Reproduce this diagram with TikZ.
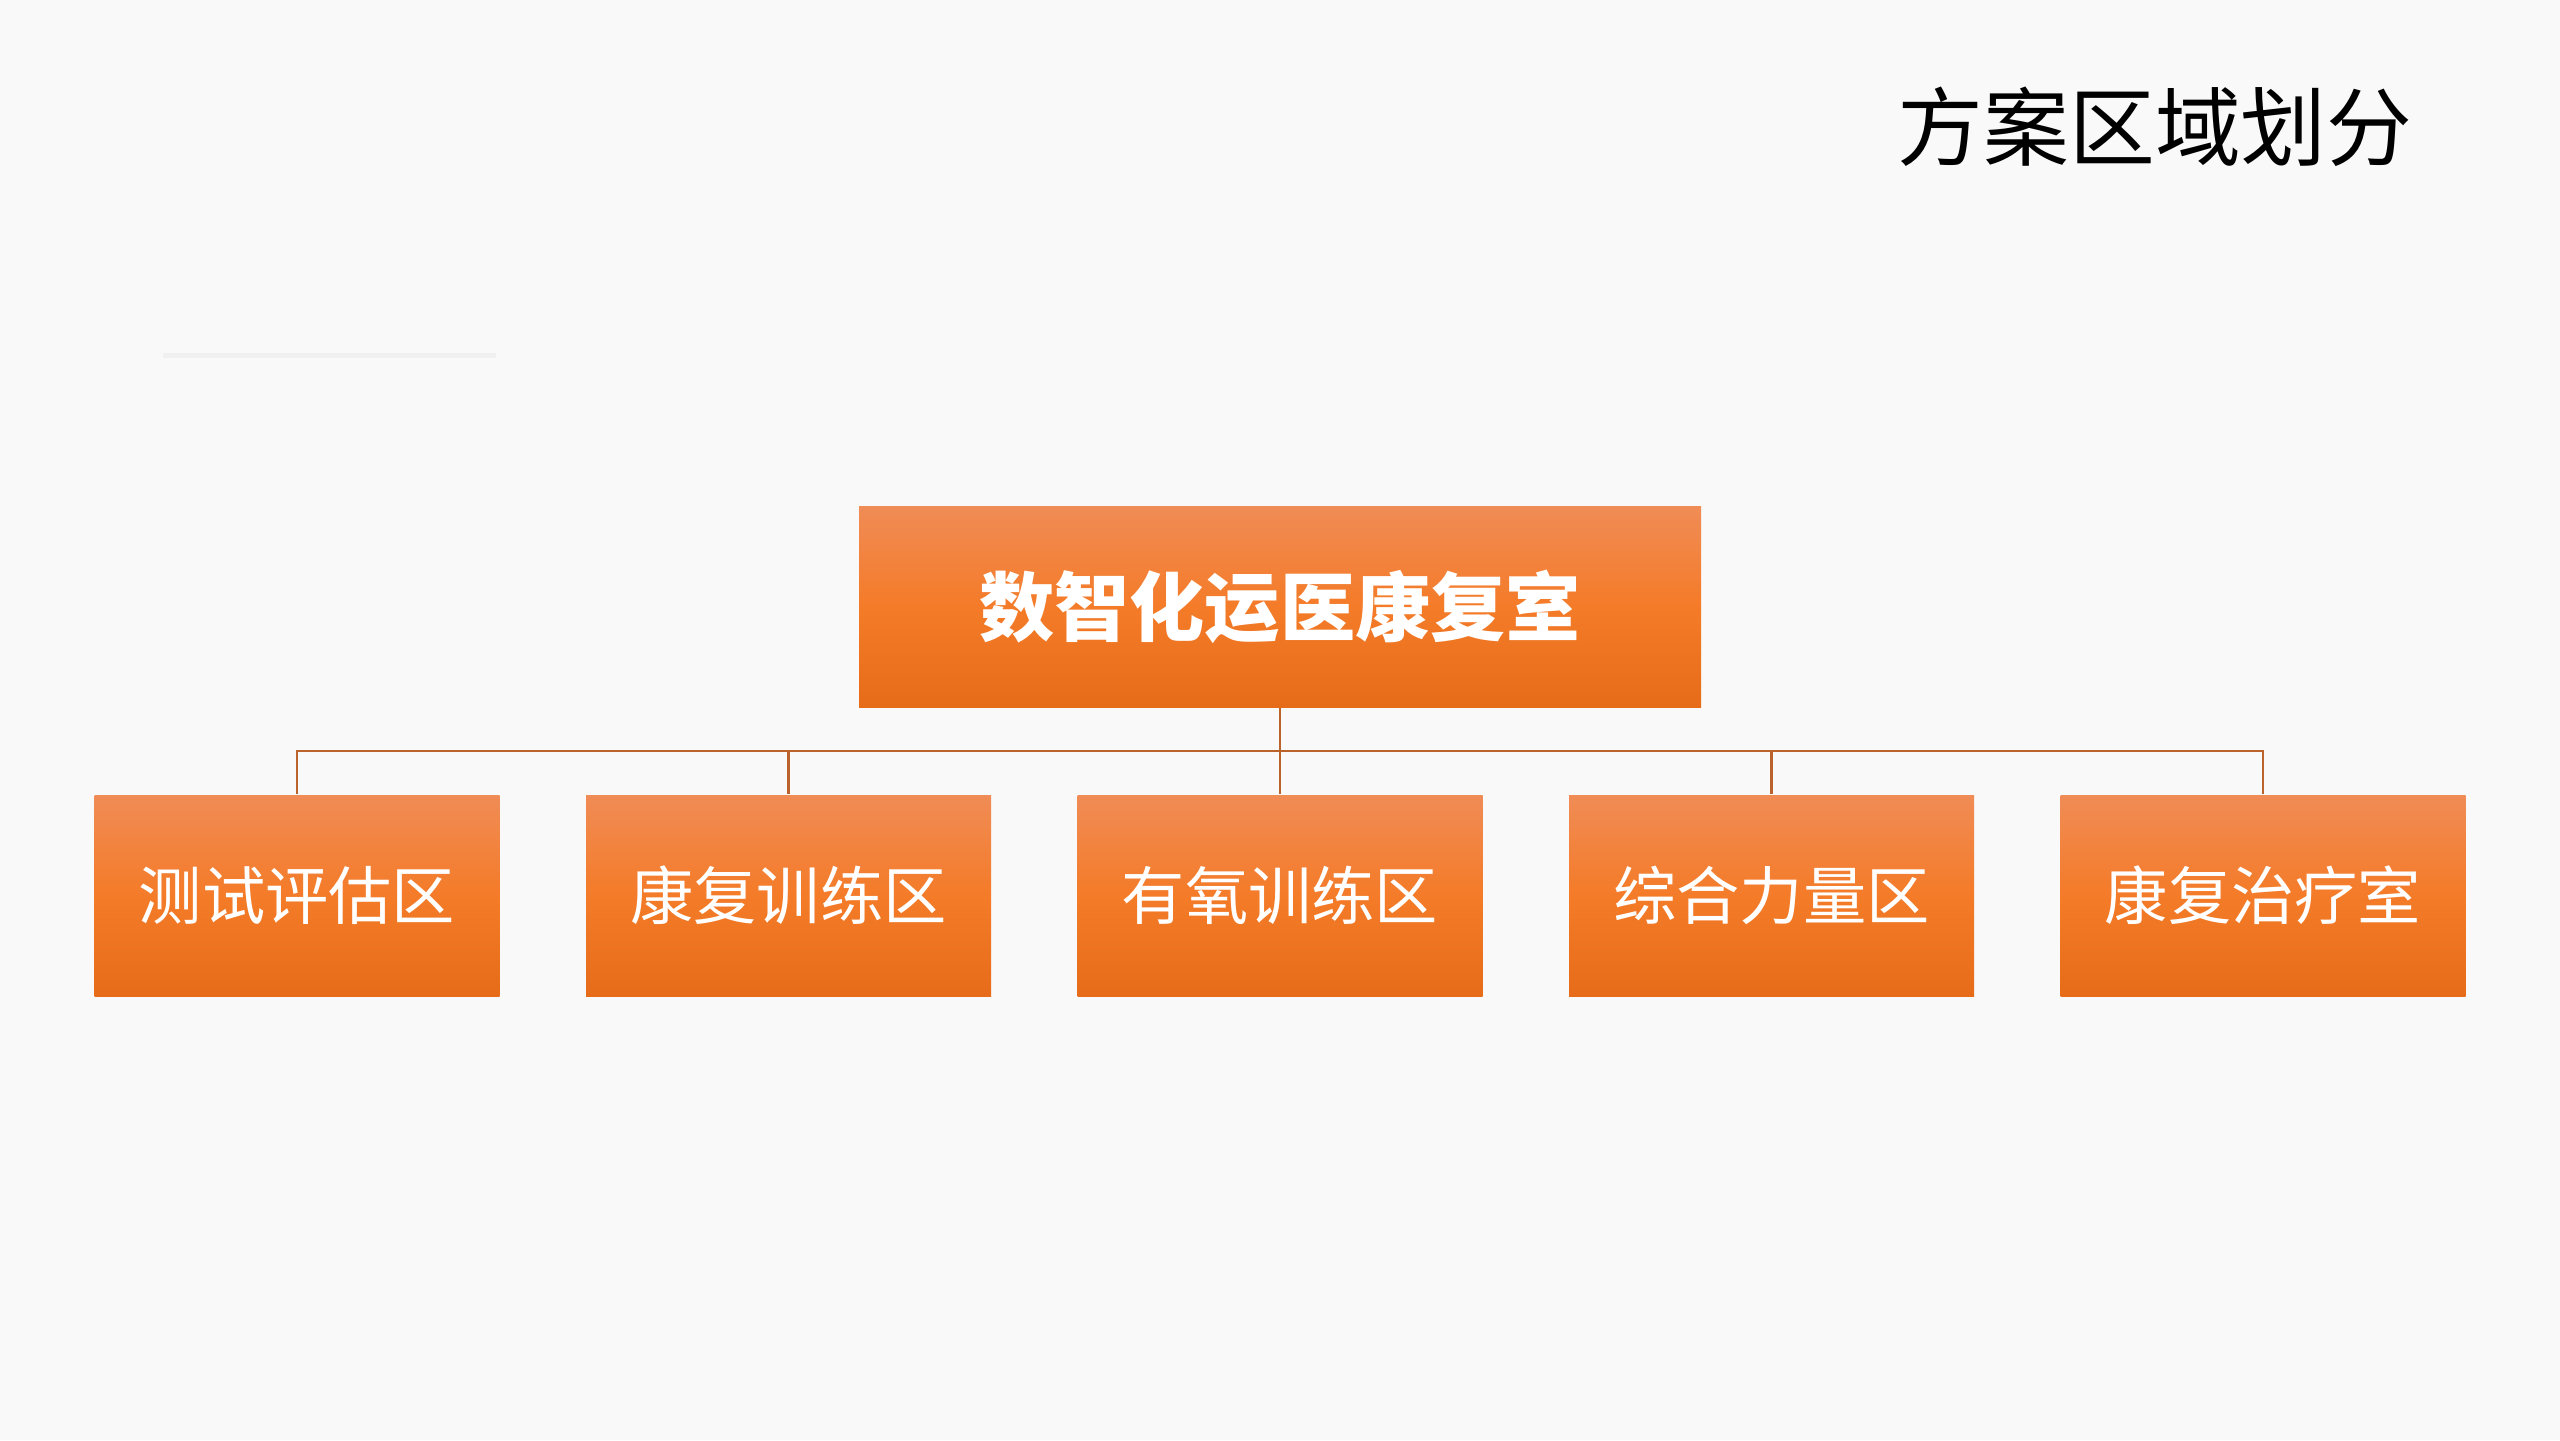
\documentclass[tikz,border=0pt]{standalone}
\usepackage{fontspec}
\usepackage{tikz}
\newfontfamily\cjk{Noto Sans CJK SC}
\definecolor{pagebg}{HTML}{F9F9F9}
\definecolor{boxtop}{HTML}{F08C56}
\definecolor{boxmid}{HTML}{F47B28}
\definecolor{boxbot}{HTML}{E66C1A}
\definecolor{linkcol}{HTML}{BA632C}
\tikzset{
  zone/.style={rectangle, minimum width=4.05cm, minimum height=2.01cm, inner sep=0pt,
    top color=boxtop, bottom color=boxbot, middle color=boxmid,
    text=white, font=\cjk\fontsize{18pt}{20pt}\selectfont},
  hall/.style={zone, minimum width=8.42cm, font=\cjk\bfseries\fontsize{21.4pt}{24pt}\selectfont},
  link/.style={linkcol, line width=0.7pt}
}

\begin{document}
\begin{tikzpicture}
\fill[pagebg] (0cm,0cm) rectangle (25.6cm,-14.4cm);
\useasboundingbox (0cm,0cm) rectangle (25.6cm,-14.4cm);
\node[anchor=east, inner sep=0pt, font=\cjk\fontsize{24.4pt}{28pt}\selectfont] (title) at (24.13cm,-1.27cm) {方案区域划分};
\fill[black!6] (1.63cm,-3.53cm) rectangle (4.96cm,-3.58cm);
\node[hall] (top) at (12.8cm,-6.065cm) {数智化运医康复室};
\coordinate (bar) at (12.8cm,-7.51cm);
\foreach \i/\x/\t in {1/2.97/测试评估区, 2/7.885/康复训练区, 3/12.8/有氧训练区, 4/17.715/综合力量区, 5/22.63/康复治疗室} {
  \node[zone] (c\i) at (\x cm,-8.955cm) {\t};
  \draw[link] (bar) -| (c\i.north);
}
\draw[link] (top.south) -- (bar);
\end{tikzpicture}
\end{document}
